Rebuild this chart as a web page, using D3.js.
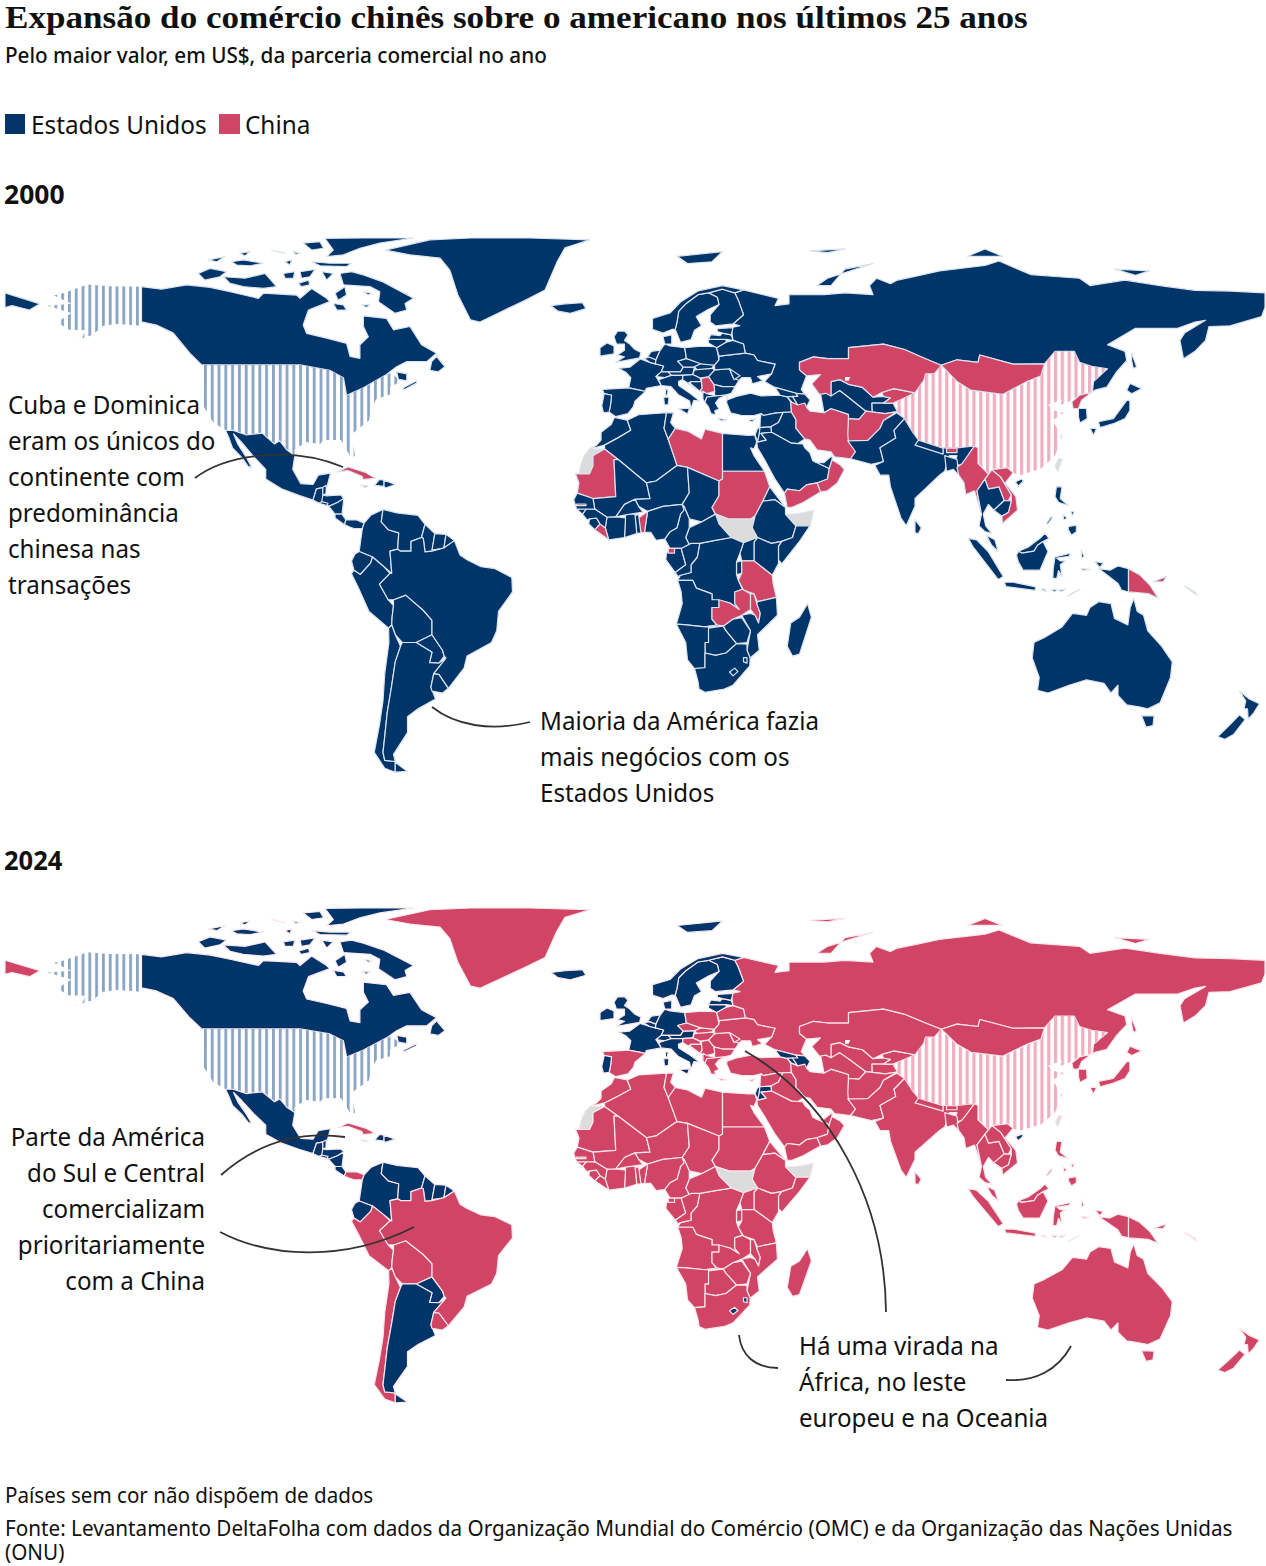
<!DOCTYPE html>
<html>
<head>
<meta charset="utf-8">
<script src="https://cdn.jsdelivr.net/npm/d3@7"></script>
<style>
  html, body { margin: 0; padding: 0; background: #fff; }
  svg { display: block; }
</style>
</head>
<body>
<svg id="chart" width="1266" height="1566"></svg>
<script>
// who was the larger partner: everything else is US in 2000 and China in 2024
const chinaIn2000 = ["Kazakhstan", "Mongolia", "Kyrgyzstan", "Iran", "Afghanistan", "North Korea", "Myanmar", "Laos", "Vietnam", "Bhutan",
  "Libya", "Sudan", "Mauritania", "Yemen", "Oman", "Tanzania", "Zambia", "Malawi", "Benin", "Liberia", "Equatorial Guinea", "Gambia",
  "Papua New Guinea", "New Britain", "Solomon Islands", "Cuba", "Jamaica", "Serbia"];
const usIn2024 = ["Canada", "Mexico", "Guatemala", "Belize", "Honduras", "El Salvador", "Nicaragua", "Costa Rica", "Haiti", "Dominican Republic",
  "Colombia", "Venezuela", "Guyana", "Suriname", "French Guiana", "Ecuador", "Paraguay", "Argentina", "Arctic Canada", "Iceland", "Svalbard",
  "Norway", "Sweden", "Finland", "Denmark", "United Kingdom", "Ireland", "France", "Belgium", "Netherlands", "Germany", "Switzerland", "Austria",
  "Italy", "Portugal", "Estonia", "Latvia", "Lithuania", "Georgia", "Armenia", "Azerbaijan", "Israel", "Jordan", "Lesotho", "Eswatini", "Hainan"];
const noData = ["Western Sahara", "South Sudan", "Somaliland", "Taiwan"];
const hatched = ["United States", "China"];
const usFamily = ["United States"];

// outlines, lon,lat
const shapes = [
  ["Canada", "-141,70.7 -135.3,70 -128.1,71.2 -121.4,70.5 -115.7,69.3 -107.6,67.5 -106.2,68.9 -96.7,68.4 -95.7,67.5 -92.4,70.2 -88.1,67.5 -87.2,66.6 -93.3,64.3 -94.8,60.2 -93.8,57.9 -88.1,56.6 -82.4,55.2 -81.4,51.6 -78.6,51.1 -78.6,54.8 -76.2,57 -77.6,59.8 -77.6,62.7 -71,62 -69,58.9 -64.3,59.8 -61,54.8 -56.7,52.5 -59.5,50.2 -65.2,50.2 -68.1,48.8 -71,46.8 -77.6,43.4 -82.4,41.5 -83.3,46 -87.2,47.9 -95.7,49.3 -123.8,49.3 -127.2,52.5 -131.9,58 -136.7,60.2 -141,61.1|-58.1,50.2 -56.7,51.6 -54.3,48.8 -56.2,47.5 -58.6,47.9|-68.1,47.5 -65.2,47 -65.2,45.2 -67.6,45.6|-66.2,43.4 -62.4,45.2 -62.4,44.6 -66,42.9"],
  ["Arctic Canada", "-124.8,74.3 -121.4,75.7 -116.7,74.8 -118.6,73.4 -122.9,72.5|-117.6,73.4 -111.4,73 -105.7,74.3 -102.4,70.7 -106.2,70.2 -111.9,70.7 -115.7,71.6|-121.9,78 -117.2,78.9 -119.5,77.5|-115.3,77.5 -111.9,78 -106.2,77.1 -110,76.4 -113.8,76.6|-112.9,79.8 -110,80.3 -111.4,79.1|-103.8,80.7 -100,79.8 -102.4,80.3|-97.6,80.3 -95.7,79.8 -97,79.5|-100.5,74.3 -97.2,74.8 -97.6,73 -100,73|-100,77.5 -98.1,78 -98.6,76.6|-95.7,74.8 -91.4,75.4 -92.9,73.4 -95.3,73|-96.2,71.6 -93.3,72.5 -92.9,71.2 -95.3,70.7|-92.4,77.5 -87.2,77.1 -81,77.1 -82.4,76.2 -90,76.4|-94.8,82.6 -90,83 -89,81.2 -92.4,80.7|-88.6,83.9 -77.6,84 -63.3,84 -72.9,82.6 -78.6,81.2 -83.3,79.4 -88.1,78.9 -86.2,80.7|-84.3,74.3 -81,74.8 -77.6,73.9 -72,72 -63.3,67.5 -65.7,66.1 -65.2,64.3 -68.6,63.4 -73.3,66.6 -72.9,69.3 -75.7,70.7 -83.3,71.2|-89.5,74.8 -86.2,74.3 -88.1,72.5|-86.2,66.1 -83.3,65.7 -82.4,64.3 -85.2,64.3|-77.6,69.3 -75.2,68.9 -76.2,68.4|-78.1,65.7 -75.7,65.7 -76.7,65|-85.7,68.9 -82.9,70.7 -82.4,68.4 -84.8,67"],
  ["United States", "-123.8,49.3 -95.7,49.3 -87.2,47.9 -83.3,46 -82.4,41.5 -77.6,43.4 -71,46.8 -69.5,47.3 -67,45 -70,43.5 -70,41.7 -74,40.5 -75.5,37.5 -76,35 -81,31.5 -80,26 -81,25.2 -82.7,28 -84,30 -89,30 -90,29 -94,29.5 -97.3,27.5 -97.2,26 -99.5,27.5 -101.5,29.8 -103,29 -106.5,31.8 -111,31.3 -114.8,32.5 -117,32.5 -120.5,34.5 -122.5,37.5 -124.3,40.5 -124,46|-141,70.7 -150,70.8 -156.5,71.3 -163,69 -166,68.3 -161,66 -168,65.5 -161,63.5 -165,61 -162,59 -157,58.8 -158,56.5 -164,54.7 -155,57.5 -152,60 -148,60.5 -141,60 -141,61.1"],
  ["Greenland", "-71.4,80.7 -58.6,83.5 -47,84 -30,84 -12.9,83.5 -20,81.3 -22.3,77.4 -25.7,69.8 -31.4,67 -40,63 -44.3,61 -47,61.6 -50.6,68.4 -52.9,75.2 -55.7,78.5 -64.3,79.4"],
  ["Iceland", "-24,65.5 -22,64 -18.5,63.4 -14,64.7 -15,66.3 -20,66"],
  ["Svalbard", "12,79 25,80.3 22,77.5 15,77"],
  ["Mexico", "-117,32.5 -114.8,32.5 -111,31.3 -106.5,31.8 -103,29 -101.5,29.8 -99.5,27.5 -97.2,26 -97.8,22.5 -95.5,18.8 -92,18.6 -90.5,21 -87,21.5 -88,18 -91,17.5 -92,14.6 -96,15.8 -101,17.5 -105.5,20 -105.5,22.5 -109,25.8 -112.5,29.5 -114.7,31.6 -113.5,29 -111,25.5 -109.5,23 -110.5,23.2 -112.3,25.5 -115,28 -116,30.5"],
  ["Guatemala", "-92,14.6 -91,17.5 -89.2,17.8 -89.2,15.9 -88.2,15.7 -89.5,14.2 -90.2,13.8"],
  ["Belize", "-89.2,17.9 -88.2,18.4 -88.3,16.2 -89.2,15.9"],
  ["Honduras", "-89.2,15.9 -88.2,15.7 -84,15.9 -83.2,15 -85,14 -87.5,13 -89.5,14.2"],
  ["El Salvador", "-90.2,13.8 -89.5,14.2 -87.7,13.8 -88,13.2"],
  ["Nicaragua", "-87.5,13 -85,14 -83.2,15 -83.7,11 -85.7,11"],
  ["Costa Rica", "-85.7,11 -83.7,11 -82.6,9.5 -83,8.3 -85.7,10"],
  ["Panama", "-83,8.3 -82.6,9.5 -79.5,9.5 -77.4,8.7 -77.9,7.3 -80.3,7.3 -81.5,7.7"],
  ["Cuba", "-85,21.8 -82,23.1 -77,21.7 -74.2,20.2 -77.7,19.9 -78,20.7 -82,22.2"],
  ["Jamaica", "-78.3,18.4 -76.3,18.2 -77,17.8"],
  ["Haiti", "-74.4,18.4 -73,19.9 -71.7,19.7 -71.7,18.1"],
  ["Dominican Republic", "-71.7,19.7 -68.5,18.6 -71.3,17.7 -71.7,18.1"],
  ["Colombia", "-77.4,8.7 -75.5,10.7 -72,12.2 -72.5,9 -70.5,7 -67.5,6.2 -67.8,2 -70,1.5 -69.5,-4.2 -72,-2.3 -75,0 -78.8,1.4 -77.9,7.3"],
  ["Venezuela", "-72,12.2 -68,11.3 -62,10.7 -60,8.4 -61,5 -64,4 -64,1.5 -67,1.5 -67.8,2 -67.5,6.2 -70.5,7 -72.5,9"],
  ["Guyana", "-60,8.4 -57.2,6 -58,1.5 -60,1.3 -60.5,4.8 -61,5"],
  ["Suriname", "-57.2,6 -54,5.8 -54.6,2.3 -58,1.8"],
  ["French Guiana", "-54,5.8 -51.6,4.2 -54.6,2.3"],
  ["Ecuador", "-78.8,1.4 -75,0 -75.5,-1.5 -78.5,-4.5 -80.3,-3.4 -81,-1 -80,0.8"],
  ["Peru", "-81,-4.3 -80.3,-3.4 -78.5,-4.5 -75.5,-1.5 -75,0 -72,-2.3 -70,-4.2 -73,-7 -70.5,-11 -69,-12.5 -69.4,-15.5 -69.5,-17.5 -70.4,-18.3 -76,-14 -79,-8"],
  ["Bolivia", "-69,-12.5 -69,-11 -65.5,-9.8 -60.5,-13.7 -58,-16.3 -58,-20 -62.5,-22 -66.5,-22 -68.5,-20 -69.5,-17.5 -69.4,-15.5"],
  ["Paraguay", "-62.5,-22 -58,-20 -55,-24 -54.5,-25.5 -56,-27.3 -58.7,-27.2 -58,-24.5"],
  ["Chile", "-70.4,-18.3 -69.5,-17.5 -68.5,-20 -67,-23 -68.5,-27 -69.5,-33 -70.8,-40 -71.5,-46 -72,-50 -71.5,-52 -68.5,-52.3 -68.5,-55 -71.5,-54 -74.5,-50 -73,-43 -72,-37 -71.5,-30 -70.3,-22"],
  ["Argentina", "-66.5,-22 -62.5,-22 -58,-24.5 -58.7,-27.2 -56,-27.3 -54,-26 -57.5,-30 -58.3,-33.5 -57,-36.5 -62,-39 -65,-41 -65,-45 -69,-50.5 -68.5,-52.3 -71.5,-52 -72,-50 -71.5,-46 -70.8,-40 -69.5,-33 -68.5,-27 -67,-23|-68.5,-52.5 -65,-54.8 -68.5,-55"],
  ["Uruguay", "-58.3,-33.5 -57.5,-30 -56,-30.2 -53.3,-33.8 -55,-35 -58,-34.5"],
  ["Brazil", "-51.6,4.2 -50,0.5 -48,-0.7 -44,-2.5 -40,-3 -35.2,-5.3 -35,-9 -39,-14 -39.5,-19 -41,-22 -48,-25.5 -48.8,-28.5 -53.3,-33.8 -56,-30.2 -57.5,-30 -54,-26 -54.5,-25.5 -55,-24 -58,-20 -58,-16.3 -60.5,-13.7 -65.5,-9.8 -69,-11 -70.5,-11 -73,-7 -70,-4.2 -69.5,-4.2 -70,1.5 -67.8,2 -67,1.5 -64,1.5 -64,4 -61,5 -60.5,4.8 -60,1.3 -58,1.5 -54.6,2.3"],
  ["Russia", "31,69.8 41,67.5 40,65.5 44,66 44,68.5 54,68.5 60,69 68,68.5 67,71 69,73 73,71.5 75,72.5 80,73.5 87,75 100,76.5 104,77.7 113,74 127,73 130,71 140,72.5 150,71 160,69.7 170,69.5 180,69 180,65 179,62.5 170,60 164,59.8 163,56 160,53 156.7,51 155.7,56 157,58 163,61.5 160,61 155,59.3 143,59.3 135,54.8 140,53 140.5,50.5 137.6,47.5 134.8,43.6 131.4,42.8 130.7,42.3 131,45 135,48.3 130.5,48.9 127,50 125.5,53 120,53 117,49.6 108,49.5 98.5,52 98,50 92,50.7 87.5,49.2 83,51 77,53.5 71,55 61,54 61,51 55,51 51,51.5 47,50 47,48 49,46.5 47.5,43 48.5,41.8 46,42 40,43.5 37,45 39,47 40,49.5 35,50.5 34,52 31.5,52.5 31,55 28,56 27.5,59.5 30,60 28,60.5 31,63 29.5,67 28.5,69|-180,69 -175,67.5 -170,66 -173,64.3 -178,65.5 -180,65|141.9,52.6 143.3,48.8 142.4,48.3 141.9,50.5|52,71 55,73 68,77 60,75.5 56,71|95,79 105,79 100,81|137,75.5 147,75 143,73.8|50,80.5 60,81 55,80"],
  ["Finland", "28.5,69 25,70 21,69 23.5,67.8 24,65.8 21.5,63 21.5,61 23,60 28,60.5 31,63 29.5,67"],
  ["Sweden", "21,69 18,68.5 14.5,66 12.5,64 12,61 11.5,59 13,55.5 16,56.2 17,58.8 19,60 17.5,62.5 21,64.5 24,65.8 23.5,67.8"],
  ["Norway", "31,69.8 25,71 18,69.5 13,66.5 10,63.5 5,62 5,59 8,58 10.5,59 11.5,59 12,61 12.5,64 14.5,66 18,68.5 21,69 25,70 28.5,69"],
  ["Denmark", "8,57 10.5,57.5 10.5,55 8.5,55"],
  ["United Kingdom", "-5,58.5 -3,58.6 -2,57.5 -3,56 -1.5,55 0,53.5 1.7,52.7 1.3,51.2 -5.5,50 -3,51.5 -5,52 -3,53.3 -3,55 -5.3,55 -6,57"],
  ["Ireland", "-10,54 -8,55.3 -6,54.5 -6,52.3 -10,51.7"],
  ["France", "-4.7,48.4 -1.5,48.7 1.5,50.9 4.2,50 8.2,49 7.5,47.5 6,46.3 7.5,44 3.2,43.3 3,42.5 -1.8,43.4 -1.2,46 -2.5,47.3|8.7,42.9 9.5,42.9 9.2,41.4 8.7,41.6"],
  ["Spain", "-9.3,43 -1.8,43.4 3,42.5 0,40 -0.5,38.5 -2,36.8 -5.5,36 -7.4,37.2 -7,39 -6.7,41.5 -8.8,41.9"],
  ["Portugal", "-8.8,41.9 -6.7,41.5 -7,39 -7.4,37.2 -9,37 -9.5,38.8"],
  ["Belgium", "2.5,51.1 4.2,51.4 6,50.7 5.8,49.6 4.2,50"],
  ["Netherlands", "3.5,51.4 4.7,53 7.2,53.3 6,50.7 4.2,51.4"],
  ["Germany", "6,50.7 7.2,53.3 8.5,55 10,54.5 14.2,54 14.7,51 12.2,50.3 13.8,48.7 13,47.5 7.5,47.5 8.2,49 5.8,49.6"],
  ["Switzerland", "6,46.3 7.5,47.5 9.5,47.5 10.4,46.6 8.5,46"],
  ["Austria", "9.5,47.5 13,47.5 13.8,48.7 17,48.8 16.5,46.8 13,46.6 10.4,46.6"],
  ["Italy", "7.5,44 6.8,45.5 8.5,46 10.4,46.6 13.7,46.6 13.7,45.6 12.4,45 12.5,44 16,41.8 18.5,40 16.8,40.2 16,38 15.6,40 12.3,41.7 10.3,43.7|12.5,38 15.6,38.2 15,36.7|8.2,41 9.7,41 9.5,39.1 8.4,39"],
  ["Poland", "14.2,54 19,54.4 23.3,54.3 24,50.7 22.7,49.2 19,49.4 14.7,51"],
  ["Czechia", "12.2,50.3 14.7,51 18.8,49.6 17,48.8 13.8,48.7"],
  ["Slovakia", "17,48.8 18.8,49.6 22.5,49.2 22,48.4 18,47.8"],
  ["Hungary", "16.5,46.8 17,48 22,48.4 22.8,48 21,46.2 18.5,45.9"],
  ["Romania", "22.8,48 27,48.3 29.7,45.3 28.6,43.7 25,43.7 22.5,44.3 21,46.2"],
  ["Bulgaria", "22.5,44.3 25,43.7 28.6,43.7 27.5,42 25,41.3 22.8,41.4"],
  ["Croatia", "13.7,46.6 16.5,46.8 18.5,45.9 19,45 16,45 15,44.5 18.5,42.5 13.6,45.5"],
  ["Bosnia", "16,45 19,45 19.2,43.4 18.5,42.5 15.8,44.5"],
  ["Serbia", "19,45.8 21,46.2 22.5,44.3 22.8,42.5 20.5,41.9 18.6,42.5 19.2,43.4 19,45"],
  ["Albania", "19.4,42.5 20.5,41.9 22.8,41.4 23,41 20.5,41 20,39.7 19.4,40.5"],
  ["Greece", "20,39.7 20.5,41 23,41.3 26.3,41.6 24,40.7 23,39.5 24,38 22.8,37.5 23,36.5 21.7,36.8 21,38.5|23.6,35.6 26.3,35.2 24.7,34.9"],
  ["Ukraine", "22.7,49.2 24,50.7 24,51.7 31.5,52.5 34,52 35,50.5 40,49.5 39,47 35,46.3 36.5,45.2 33.5,44.4 33,46 30.5,46 29.7,45.3 28,46 27,48.3 22.8,48"],
  ["Moldova", "27,48.3 30,46.5 28.3,45.5"],
  ["Belarus", "24,51.7 31.5,52.5 31,55 28,56 26,55.5 23.3,54"],
  ["Lithuania", "21,55.3 21,56.3 26,56.3 26,55.5 23.3,54"],
  ["Latvia", "21,56.3 21.7,57.6 24.3,57.3 25,58 27.5,57.5 28,56 26,56.3"],
  ["Estonia", "23.5,59.2 28,59.5 27.5,57.5 25,58 23.5,58.4"],
  ["Turkey", "26.3,41.6 26.2,39.5 27.3,37 30.5,36.3 34,36.3 36,36.8 36.7,36.3 40,36.9 44.7,37.2 44.5,39.7 43.5,41.1 41.5,41.5 36,41.3 33,42 29,41.2 26.3,40.3"],
  ["Cyprus", "32.4,35 34.5,35.6 33.5,34.7"],
  ["Georgia", "40,43.5 46,42 46.5,41.2 43.5,41.1 41.5,41.5"],
  ["Armenia", "43.5,41.1 45,41.2 46.5,39 44.8,39.7"],
  ["Azerbaijan", "45,41.2 46.5,41.2 46,42 48.5,41.8 50,40.3 49,38.4 46.5,39"],
  ["Syria", "36,36.8 36.7,36.3 40,36.9 42.3,37.1 41,34.5 38.8,33.4 35.7,33.2 35.8,35.5"],
  ["Iraq", "42.3,37.1 44.7,37.2 46,35.2 46,33 48.5,30.3 46.5,29.1 44.7,29.2 39,32 38.8,33.4 41,34.5"],
  ["Israel", "34.3,31.3 35,29.5 35.5,31.5 35.7,33.2 35,33"],
  ["Jordan", "35,29.5 37.5,30 36,31.7 39,32 38.8,33.4 35.7,33.2 35.5,31.5"],
  ["Saudi Arabia", "34.8,29.4 37.5,30 36,31.7 39,32 44.7,29.2 46.5,29.1 48,29 48.5,28 50,26.7 50.8,24.7 52,24.2 55.5,22.7 55,20 52,19 49,18.5 47,17 43.5,17.4 42.7,16.4 40,20 38.8,22 37,25 35,28"],
  ["UAE", "51.5,24.3 54,24.2 56.3,26 56.3,24.9 55.5,22.7 52,24.2"],
  ["Oman", "56.3,24.9 58.7,23.6 59.8,22.4 57.8,19 55,17 53,16.7 52,19 55,20 55.5,22.7"],
  ["Yemen", "42.7,16.4 43.5,17.4 47,17 49,18.5 52,19 53,16.7 48,14 45,12.8 43.5,12.7"],
  ["Iran", "44.5,39.7 44.8,39.7 46.5,39 48.5,39.5 49,38.4 50,37.4 54,37 56,38.1 61,36.6 61,31.5 63,27 61.6,25.2 57,25.7 56,27 52,27.5 50,30 48.5,30.3 46,33 46,35.2 44.7,37.2"],
  ["Turkmenistan", "53,42 54.5,42 58.5,42.7 61,41 66,37.4 64,35.3 61,35.5 61,36.6 56,38.1 54,37 53.5,39.5"],
  ["Uzbekistan", "56,45 58.5,45.5 61,44.3 65,43.5 68,41 71,41.2 73,40.8 71,39.5 67.7,39.5 67.8,37.2 66,37.4 61,41 58.5,42.7 56,41.3"],
  ["Tajikistan", "67.7,39.5 71,39.5 73.7,39.5 75,37.3 71.5,36.8 67.8,37.2"],
  ["Kyrgyzstan", "71,41.2 70.5,42.2 74,43.2 80,42.1 76,40.4 73.7,39.5 71,39.5 73,40.8"],
  ["Kazakhstan", "47,50 51,51.5 55,51 61,51 61,54 71,55 77,53.5 83,51 87.5,49.2 85.5,47 83,47 82.5,45.3 80,42.1 74,43.2 70.5,42.2 68,41 65,43.5 61,44.3 58.5,45.5 56,45 56,41.3 54.5,42 52.7,41.7 50.5,44.4 53,46.8 49,46.5 47,48"],
  ["Afghanistan", "61,35.5 64,35.3 66,37.4 71.5,36.8 74.8,37.3 71,35 70,33 66.5,29.9 61,29.5 60.8,31.5"],
  ["Pakistan", "60.8,29.8 66.5,29.9 70,33 71,35 74.8,37 77,35.5 74,32.5 74.5,30.5 70,28 71,24.5 67.5,23.8 61.6,25.2 63,27"],
  ["India", "74,32.5 77,35.5 79,32.5 81,30 88,26.5 88,28 92,28 97,28.5 94,24 92.5,23.5 91.5,24.5 92,26 89.8,26 88.5,22 87,21 80,15 80,13 77.5,8 76,10 73,18 72.5,21 70,21 68.5,23.5 71,24.5 70,28 74.5,30.5"],
  ["Nepal", "81,30 88,27.9 88,26.4 80,28.7"],
  ["Bhutan", "89,28 92,27.9 92,26.8 89,26.8"],
  ["Bangladesh", "88.5,26 92,25 92.5,21 91,22.5 89,22"],
  ["Sri Lanka", "80,9.6 81.8,7.5 81,6 80,6.2"],
  ["China", "73.7,39.5 76,40.4 80,42.1 82.5,45.3 83,47 85.5,47 87.5,49.2 92,45 96,42.8 105,41.7 112,45 116,46.5 117,49.6 120,53 125.5,53 127,50 130.5,48.9 135,48.3 131,45 130.7,42.3 127,41.5 124.3,40 121.5,39 122,40.5 118,39 120,37.5 122.5,37 119.3,35 122,31 120,26 116,22.7 110,21 108,21.6 106.5,22.9 102,22.4 101,21.2 98,24 98,28 97,28.5 92,28 88,28 81,30 79,32.5 77,35.5 74.8,37.3"],
  ["Mongolia", "87.5,49.2 92,50.7 98,50 98.5,52 108,49.5 117,49.6 116,46.5 112,45 105,41.7 96,42.8 92,45"],
  ["Myanmar", "97,28.5 98,28 98,24 101,21.2 100,20 97.7,17 99,11 98,14 97,17 94.5,16 94,19 92.5,21 92,23 93.5,24"],
  ["Thailand", "100,20 101,17.5 104,18 105.5,14.5 102.5,12 101,13.5 99.5,11 100.2,8 102,6 100,6.5 98.3,8 99,11 97.7,17"],
  ["Laos", "101,21.2 102,22.4 104.5,20.5 107.5,16 106.7,14.4 105.5,14.5 104,18 101,17.5 100,20"],
  ["Vietnam", "102,22.4 106.5,22.9 108,21.6 105.8,19 108.8,15.5 109.3,12 105,8.6 104.8,10.5 106.7,11.5 107.5,14.4 107.5,16 104.5,20.5"],
  ["Cambodia", "102.5,12 105.5,14.5 107.5,14.4 106.7,11.5 104.8,10.5"],
  ["Malaysia", "100.4,5.6 102.8,4.4 103.8,1.4 101.9,3|109.6,1.5 112.3,2.5 115.7,4.8 117.1,6.1 118.3,4.8 116.6,4 115,3 114,1.5 110.5,1"],
  ["Indonesia", "109,0.5 109.6,1.5 110.5,1 114,1.5 115,3 116.6,4 118,1.4 115.7,-3.4 110.9,-3.4 109.5,-1.2|95.2,4.8 97.6,4.4 100.9,1.4 105.2,-5 103.8,-5.8 99.5,-0.8 96.6,2.6|105.5,-6.5 108,-6.5 114.5,-7.7 114.3,-8.6 106,-7.6|120,0 124.5,1 124,0.2 120.5,-0.3 121.5,-1 123,-1 121.5,-2 122,-5 121,-3.5 120.5,-5.5 119.4,-5.5 119.5,-3|116,-8.4 117,-8.2 117.5,-8.9|119,-8.4 120.5,-8.3 120,-9|121,-8.6 123,-8.2 122,-8.9|123.8,-10 127,-8.4 125,-9.3|127.5,1.8 128.3,0.2 127.6,-0.4|127.5,-3 130,-3.2 128,-3.5|131.4,-1.2 133.8,-1.5 132.8,-2.7|132.5,-3 135.7,-3.4 138,-2.3 141,-3 141,-9 139,-8.5 138,-6.8 134.7,-4.5"],
  ["Papua New Guinea", "141,-3 144.2,-4.6 147.1,-7.2 149.5,-10.6 146.6,-9.4 141,-9"],
  ["New Britain", "148,-6.4 151.9,-5 150.9,-6.4"],
  ["Solomon Islands", "157,-7.5 160,-9 160.5,-9.8 158,-8.2"],
  ["Philippines", "120.4,18 122,18 121.5,15 123.8,13.2 121,14 120,15.5|123.8,7.8 126.1,8.2 126.1,6.5 124.7,5.6 123.8,7|122.3,10.8 123.5,10 122.5,9.5|124.5,11.7 125.5,11.6 125,10.5|117.5,8.6 119,10.5 119.2,10 118,8.5"],
  ["Taiwan", "121,25.2 122,25 120.8,22 120.1,23.2"],
  ["Hainan", "108.7,19.3 110.5,20 111,19.5 109.5,18.2"],
  ["North Korea", "124.8,39.8 127,41.5 130.5,42.3 127.6,40.2 126.7,38.1 125.2,38.1"],
  ["South Korea", "126.7,38.1 129,38.1 129.2,35.5 127.1,34.4 126.7,36"],
  ["Japan", "132.4,34.7 136.7,35.5 140.5,40.2 141.4,40.2 141.4,37.6 140,35.5 136.7,34.2 132.9,33.2|141.4,44.5 144.8,43.2 141.9,41.9 140.5,42.8|130,33 131.9,33 131,31.2"],
  ["Morocco", "-5.9,35.8 -2.2,35.1 -1.2,32.5 -5,30.5 -8.7,28.7 -13,27.7 -11,28.7 -9.7,30 -9.7,32 -6.8,34"],
  ["Western Sahara", "-13,27.7 -8.7,27.7 -12,26 -12,23.4 -13,21.3 -16,21.3 -15.5,23.5 -14.5,26"],
  ["Algeria", "-2.2,35.1 1,36.5 9,37 8.3,33 9.5,30.2 12,23.5 6,19.5 3.3,19 -4.8,25 -8.7,27.7 -8.7,28.7 -5,30.5 -1.2,32.5"],
  ["Tunisia", "9,37 11,37 10.2,34.5 11.5,33 9.5,30.2 8.3,33"],
  ["Libya", "11.5,33 15,32.3 19,30.3 20,32.8 25,31.7 25,20 24,19.5 15,23 12,23.5 9.5,30.2"],
  ["Egypt", "25,31.7 32.5,31.2 34.2,31.3 34.8,29.5 34,27.7 33,28 34,26 37,22 25,22"],
  ["Mauritania", "-17,21.3 -13,21.3 -12,23.4 -12,26 -8.7,27.7 -4.8,25 -6,25 -5.5,15.5 -12,15 -16.5,16.4 -16,19"],
  ["Mali", "-4.8,25 3.3,19 4.3,15 0,14.8 -3,13.5 -5.5,10.3 -8,10.2 -11.5,12.3 -12,15 -5.5,15.5 -6,25"],
  ["Niger", "3.3,19 6,19.5 12,23.5 15,23 15.5,16.5 13.5,13.5 8,13 3.6,11.7 1,13 0,14.8 4.3,15"],
  ["Chad", "15,23 24,19.5 24,15.7 22,12.7 23,11 19,9 15.5,9.8 14,13 13.5,13.5 15.5,16.5"],
  ["Sudan", "25,22 37,22 38.5,18 36.5,14.3 34.3,10.5 33,9.7 30,9.7 27,9.7 23,11 22,12.7 24,15.7 24,19.5 25,20"],
  ["South Sudan", "23,11 27,9.7 30,9.7 33,9.7 34.3,10.5 33.5,7.5 35,5 31,3.7 27.5,5 24,8.5"],
  ["Eritrea", "36.5,14.3 38.5,18 43,12.7 40,14.7"],
  ["Ethiopia", "36.5,14.3 40,14.7 43,12.7 43,11 46,8 45,5 41.9,4 39,3.5 35,5 33.5,7.5 34.3,10.5"],
  ["Somaliland", "43,11 46,11 51,11.9 50,8 46,8"],
  ["Somalia", "41.9,4 45,5 46,8 50,8 47,4 42,-1.7 41,-0.8 41,2.8"],
  ["Kenya", "35,5 39,3.5 41.9,4 41,2.8 41,-1.7 39.2,-4.7 34,-1 34,3.8"],
  ["Uganda", "31,3.7 35,5 34,3.8 34,-1 30.5,-1 30,1"],
  ["Rwanda", "29,-1.3 30.5,-1 30.5,-4.2 29,-4.5"],
  ["Tanzania", "30.5,-1 34,-1 39.2,-4.7 39.5,-7 40.4,-10.4 35,-11.5 34,-9.5 31,-8.5 29.5,-6 30.5,-4.2"],
  ["DR Congo", "12.2,-6 13,-4.7 16,-4 16,-2 17.8,0 18.5,3.5 22.5,4.2 27.5,5 31,3.7 30,1 29,-1.3 29,-4.5 29.5,-6 30.7,-8.3 28.5,-9 28.5,-12 29.8,-13.5 27,-11.8 22,-11 22,-9.5 17.5,-8 16.5,-6"],
  ["Central African Republic", "14.5,5 15.5,7.5 19,9 23,11 24,8.5 27.5,5 22.5,4.2 18.5,3.5 16,2.2"],
  ["Cameroon", "8.5,4.6 10,2.2 16,2.2 14.5,5 15.5,7.5 15.5,9.8 14,13 13,11 12,7.5 10,6.5"],
  ["Nigeria", "2.7,6.3 3.6,11.7 8,13 13.5,13.5 14,12 13,11 12,7.5 10,6.5 8.5,4.6 6,4.3 4.5,6.3"],
  ["Benin", "1.7,6.2 1,10 3.6,11.7 2.7,6.3"],
  ["Togo", "0.5,6 0,10.5 1,11 1.7,6.2"],
  ["Ghana", "-3,5 -2.7,11 0,11 0.5,6"],
  ["Burkina Faso", "-5.5,10.3 -3,13.5 0,14.8 1,13 2.3,11.5 -2.7,10.8"],
  ["Ivory Coast", "-7.5,4.4 -3,5 -2.7,10 -5.5,10.3 -8,10.2 -8.5,7.5"],
  ["Liberia", "-11.5,7 -7.5,4.4 -8.5,7.5 -10,8.5"],
  ["Sierra Leone", "-13.2,8.5 -13,9.8 -11,10 -10,8.5 -11.5,7"],
  ["Guinea", "-15,11 -13.7,9.5 -13,9.8 -11,10 -10,8.5 -8.5,7.5 -8,10.2 -11.5,12.3 -13.7,12.6"],
  ["Guinea-Bissau", "-16.7,12.3 -15,11 -13.7,12.6"],
  ["Senegal", "-17.5,14.7 -16.5,16.4 -12,15 -11.5,12.3 -16.7,12.3"],
  ["Gambia", "-16.7,13.6 -14,13.6 -14,13.2 -16.7,13.2"],
  ["Gabon", "9,1 11.3,2.2 13.2,2.2 14.5,-2 11.5,-4 8.8,-0.7"],
  ["Equatorial Guinea", "9.5,2.2 11.3,2.2 11.3,1 9.5,1"],
  ["Congo", "11.5,-4 14.5,-2 13.2,2.2 16,3.5 18.5,3.5 17.8,0 16,-2 16,-4 13,-4.7 12.2,-5"],
  ["Angola", "12.2,-6 16.5,-6 17.5,-8 22,-9.5 22,-11 24,-11 24,-13 22,-13 22,-16 23.4,-17.5 20,-18 13.9,-17.4 11.8,-17.3 13.5,-12 13.2,-9"],
  ["Zambia", "22,-13 24,-13 24,-11 27,-11.8 29.8,-13.5 28.5,-12 28.5,-9 30.7,-8.3 33,-9.5 33,-13.5 30.5,-15 28,-16 25.2,-17.8 23.4,-17.5 22,-16"],
  ["Malawi", "33,-9.5 34,-9.5 34.8,-12 35.8,-14.5 35.3,-17 34.3,-15 33,-13.5"],
  ["Mozambique", "35,-11.5 40.4,-10.4 40.7,-15 35,-20 35.5,-24 32.9,-26 32,-24 33,-19 30.5,-15 33,-14.5 34.3,-15 35.3,-17 35.8,-14.5 34.8,-12"],
  ["Zimbabwe", "25.2,-17.8 28,-16 30.5,-15.6 33,-19 32,-22 29,-22.3 26,-19"],
  ["Botswana", "20,-18 23.4,-17.5 25.2,-17.8 26,-19 29,-22.3 26,-24.7 23,-25.3 20,-24.7 20,-22 21,-22"],
  ["Namibia", "11.8,-17.3 13.9,-17.4 20,-18 25,-17.8 21,-18.3 21,-22 20,-22 20,-28.5 17,-28.7 15,-26.5 14.5,-22"],
  ["South Africa", "17,-28.7 20,-28.5 20,-24.7 23,-25.3 26,-24.7 29,-22.3 32,-22.4 32,-24 32.9,-26 32.8,-28 28,-33 25.5,-34 20,-34.8 18.3,-34 18,-32"],
  ["Lesotho", "27,-29.6 28.5,-28.6 29.4,-29.5 28,-30.6"],
  ["Eswatini", "31,-25.9 32,-25.9 32,-27.3 31,-27"],
  ["Madagascar", "49.3,-12 50.4,-15.5 47,-25 45,-25.5 43.5,-23 44.5,-17 47,-15.5"],
  ["Australia", "114,-22 113.5,-26 115.5,-31 115,-34.3 118,-35 124,-33 129,-31.6 134,-32.5 136,-35 138,-33 138,-35.6 140.5,-38 144,-38.5 146.5,-39 150,-37.5 153,-31 153.5,-27 150.5,-23 146.5,-19 145.3,-15 143.5,-14 142.5,-10.7 141.5,-13 140.8,-17.5 137,-15.8 136,-12 132.5,-11.5 130,-13 129,-15 125,-14.5 122,-18 117,-20.7|144.7,-40.7 148.3,-40.8 148,-43.2 146,-43.6"],
  ["New Zealand", "172.7,-34.5 175.5,-36.5 178.4,-37.7 176.8,-40 175.2,-41.6 175,-39 174,-39 174.5,-37|172.7,-40.5 174.3,-41.7 171,-45.5 168.5,-46.7 166.5,-46 170,-43"]
];

// lakes cut back to white
const lakes = ["60,46.2 61.5,46.2 61,45.2 60,45.2"];

const latDomain = [-60, -35, 0, 49, 84];
const yRange2000 = [792, 693, 557, 366, 238];
const yRange2024 = [1421, 1330, 1206, 1030, 908];

const NAVY = "#03346a";
const PINK = "#d04566";
const GREY = "#dcdcdc";

const svg = d3.select("#chart");
const xScale = d3.scaleLinear().domain([-180, 180]).range([5, 1265]);

function parseRings(str) {
  return str.split("|").map(r => {
    const pts = r.trim().split(" ").map(p => p.split(",").map(Number));
    pts.push(pts[0]);
    return [pts];
  });
}

const defs = svg.append("defs");
function addHatch(id, color, w) {
  const p = defs.append("pattern").attr("id", id).attr("patternUnits", "userSpaceOnUse")
    .attr("width", 6.8).attr("height", 7);
  p.append("rect").attr("width", w).attr("height", 7).attr("fill", color);
}
addHatch("hatch-us", "#8aa4c4", 2.8);
addHatch("hatch-cn", "#f0aec0", 3.2);
// the source picture is a soft upscale
defs.append("filter").attr("id", "soft").append("feGaussianBlur").attr("stdDeviation", 0.55);

function drawMap(yRange, colorOf, borderColor) {
  const yScale = d3.scaleLinear().domain(latDomain).range(yRange);
  const path = d3.geoPath(d3.geoTransform({
    point(lon, lat) { this.stream.point(xScale(lon), yScale(lat)); }
  }));
  const g = svg.append("g").attr("filter", "url(#soft)");
  g.selectAll("path.country")
    .data(shapes)
    .join("path")
    .attr("class", "country")
    .attr("d", d => path({ type: "MultiPolygon", coordinates: parseRings(d[1]) }))
    .attr("fill", d => colorOf(d[0]))
    .attr("stroke", d => hatched.includes(d[0]) ? "none" : borderColor)
    .attr("stroke-width", 1.2)
    .attr("stroke-linejoin", "round");
  g.selectAll("path.lake")
    .data(lakes)
    .join("path")
    .attr("class", "lake")
    .attr("d", d => path({ type: "MultiPolygon", coordinates: parseRings(d) }))
    .attr("fill", "#fff");
}

function hatchOr(name, flat) {
  if (noData.includes(name)) return GREY;
  if (hatched.includes(name)) return usFamily.includes(name) ? "url(#hatch-us)" : "url(#hatch-cn)";
  return flat;
}

drawMap(yRange2000, n => hatchOr(n, chinaIn2000.includes(n) ? PINK : NAVY), "#dbe3ed");
drawMap(yRange2024, n => hatchOr(n, usIn2024.includes(n) ? NAVY : PINK), "#fae6eb");

// text, squeezed to the narrow house font
function label(txt, x, y, size, opts) {
  const o = opts || {};
  const t = svg.append("text")
    .attr("x", x).attr("y", y)
    .attr("font-family", o.family || "'Noto Sans'")
    .attr("font-size", size)
    .attr("font-weight", o.weight || 400)
    .attr("fill", o.fill || "#111")
    .attr("text-anchor", o.anchor || "start")
    .text(txt);
  const k = o.squeeze === undefined ? 0.965 : o.squeeze;
  t.attr("textLength", t.node().getComputedTextLength() * k).attr("lengthAdjust", "spacingAndGlyphs");
  return t;
}

const titleText = "Expansão do comércio chinês sobre o americano nos últimos 25 anos";
const subtitleText = "Pelo maior valor, em US$, da parceria comercial no ano";
label(titleText, 5, 28, 32, { family: "'Liberation Serif'", weight: 700, squeeze: 1.097 });
label(subtitleText, 5, 63, 21, { weight: 500, squeeze: 0.985 });

svg.append("rect").attr("x", 5).attr("y", 114).attr("width", 20).attr("height", 20).attr("fill", NAVY);
label("Estados Unidos", 31, 134, 26, { squeeze: 0.935 });
svg.append("rect").attr("x", 219).attr("y", 114).attr("width", 21).attr("height", 20).attr("fill", PINK);
label("China", 245, 134, 26, { squeeze: 0.935 });

label("2000", 4, 204, 27, { weight: 700, squeeze: 0.98 });
label("2024", 4, 870, 26, { weight: 700, squeeze: 0.98 });

const notes2000a = ["Cuba e Dominica", "eram os únicos do", "continente com", "predominância", "chinesa nas", "transações"];
const notes2000b = ["Maioria da América fazia", "mais negócios com os", "Estados Unidos"];
const notes2024a = ["Parte da América", "do Sul e Central", "comercializam", "prioritariamente", "com a China"];
const notes2024b = ["Há uma virada na", "África, no leste", "europeu e na Oceania"];

notes2000a.forEach((s, i) => label(s, 8, 414 + i * 36, 25));
notes2000b.forEach((s, i) => label(s, 540, 730 + i * 36, 25));
notes2024a.forEach((s, i) => label(s, 205, 1146 + i * 36, 25, { anchor: "end" }));
notes2024b.forEach((s, i) => label(s, 799, 1355 + i * 36, 25));

const leaders = [
  "M195,478 C225,455 290,445 343,467",
  "M432,707 C455,725 490,732 530,722",
  "M221,1175 C255,1145 295,1130 345,1137",
  "M220,1232 C270,1258 345,1262 414,1227",
  "M745,1051 C830,1100 885,1200 886,1312",
  "M739,1335 C741,1355 755,1368 778,1368",
  "M1071,1346 C1058,1370 1035,1382 1006,1380"
];
svg.selectAll("path.leader")
  .data(leaders)
  .join("path")
  .attr("class", "leader")
  .attr("d", d => d)
  .attr("fill", "none")
  .attr("stroke", "#333")
  .attr("stroke-width", 1.8);

label("Países sem cor não dispõem de dados", 5, 1503, 21, { squeeze: 0.98 });
label("Fonte: Levantamento DeltaFolha com dados da Organização Mundial do Comércio (OMC) e da Organização das Nações Unidas", 5, 1536, 21, { squeeze: 0.985 });
label("(ONU)", 5, 1560, 21, { squeeze: 0.985 });
</script>
</body>
</html>
